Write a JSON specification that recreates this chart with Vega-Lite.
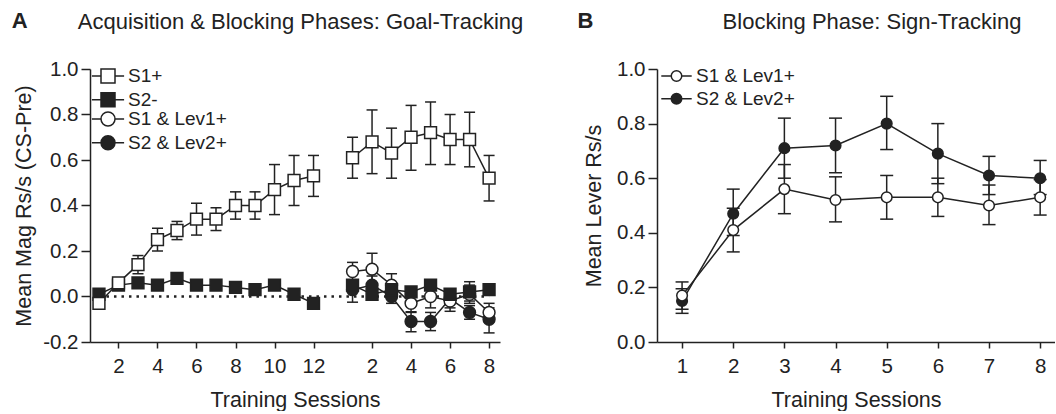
{
  "$schema": "https://vega.github.io/schema/vega-lite/v6.json",
  "padding": {"left": 11, "top": 10, "right": 0, "bottom": 0},
  "background": "white",
  "datasets": {
    "A": [
      {"g": "S2 & Lev2+", "ph": "b", "pos": 14, "m": 0.03, "lo": -0.025, "hi": 0.07},
      {"g": "S2 & Lev2+", "ph": "b", "pos": 15, "m": 0.05, "lo": -0.015, "hi": 0.09},
      {"g": "S2 & Lev2+", "ph": "b", "pos": 16, "m": 0.0, "lo": -0.03, "hi": 0.04},
      {"g": "S2 & Lev2+", "ph": "b", "pos": 17, "m": -0.11, "lo": -0.155, "hi": -0.067},
      {"g": "S2 & Lev2+", "ph": "b", "pos": 18, "m": -0.11, "lo": -0.15, "hi": -0.07},
      {"g": "S2 & Lev2+", "ph": "b", "pos": 19, "m": -0.01, "lo": -0.05, "hi": 0.03},
      {"g": "S2 & Lev2+", "ph": "b", "pos": 20, "m": -0.07, "lo": -0.1, "hi": -0.04},
      {"g": "S2 & Lev2+", "ph": "b", "pos": 21, "m": -0.1, "lo": -0.16, "hi": -0.05},
      {"g": "S1 & Lev1+", "ph": "b", "pos": 14, "m": 0.11, "lo": 0.07, "hi": 0.15},
      {"g": "S1 & Lev1+", "ph": "b", "pos": 15, "m": 0.12, "lo": 0.05, "hi": 0.19},
      {"g": "S1 & Lev1+", "ph": "b", "pos": 16, "m": 0.05, "lo": 0.0, "hi": 0.1},
      {"g": "S1 & Lev1+", "ph": "b", "pos": 17, "m": -0.03, "lo": -0.07, "hi": 0.01},
      {"g": "S1 & Lev1+", "ph": "b", "pos": 18, "m": 0.0, "lo": -0.05, "hi": 0.05},
      {"g": "S1 & Lev1+", "ph": "b", "pos": 19, "m": -0.02, "lo": -0.065, "hi": 0.025},
      {"g": "S1 & Lev1+", "ph": "b", "pos": 20, "m": 0.01, "lo": -0.03, "hi": 0.05},
      {"g": "S1 & Lev1+", "ph": "b", "pos": 21, "m": -0.07, "lo": -0.11, "hi": -0.03},
      {"g": "S2-", "ph": "a", "pos": 1, "m": 0.01, "lo": -0.005, "hi": 0.025},
      {"g": "S2-", "ph": "a", "pos": 2, "m": 0.05, "lo": 0.035, "hi": 0.065},
      {"g": "S2-", "ph": "a", "pos": 3, "m": 0.06, "lo": 0.045, "hi": 0.075},
      {"g": "S2-", "ph": "a", "pos": 4, "m": 0.05, "lo": 0.035, "hi": 0.065},
      {"g": "S2-", "ph": "a", "pos": 5, "m": 0.08, "lo": 0.065, "hi": 0.095},
      {"g": "S2-", "ph": "a", "pos": 6, "m": 0.05, "lo": 0.035, "hi": 0.065},
      {"g": "S2-", "ph": "a", "pos": 7, "m": 0.05, "lo": 0.035, "hi": 0.065},
      {"g": "S2-", "ph": "a", "pos": 8, "m": 0.04, "lo": 0.025, "hi": 0.055},
      {"g": "S2-", "ph": "a", "pos": 9, "m": 0.03, "lo": 0.015, "hi": 0.045},
      {"g": "S2-", "ph": "a", "pos": 10, "m": 0.05, "lo": 0.035, "hi": 0.065},
      {"g": "S2-", "ph": "a", "pos": 11, "m": 0.01, "lo": -0.005, "hi": 0.025},
      {"g": "S2-", "ph": "a", "pos": 12, "m": -0.03, "lo": -0.045, "hi": -0.015},
      {"g": "S2-", "ph": "b", "pos": 14, "m": 0.05, "lo": 0.03, "hi": 0.07},
      {"g": "S2-", "ph": "b", "pos": 15, "m": 0.01, "lo": -0.01, "hi": 0.03},
      {"g": "S2-", "ph": "b", "pos": 16, "m": 0.03, "lo": 0.01, "hi": 0.05},
      {"g": "S2-", "ph": "b", "pos": 17, "m": 0.02, "lo": 0.0, "hi": 0.04},
      {"g": "S2-", "ph": "b", "pos": 18, "m": 0.05, "lo": 0.03, "hi": 0.07},
      {"g": "S2-", "ph": "b", "pos": 19, "m": 0.01, "lo": -0.01, "hi": 0.03},
      {"g": "S2-", "ph": "b", "pos": 20, "m": 0.02, "lo": -0.02, "hi": 0.065},
      {"g": "S2-", "ph": "b", "pos": 21, "m": 0.03, "lo": 0.01, "hi": 0.05},
      {"g": "S1+", "ph": "a", "pos": 1, "m": -0.03, "lo": -0.05, "hi": -0.01},
      {"g": "S1+", "ph": "a", "pos": 2, "m": 0.06, "lo": 0.04, "hi": 0.08},
      {"g": "S1+", "ph": "a", "pos": 3, "m": 0.14, "lo": 0.1, "hi": 0.18},
      {"g": "S1+", "ph": "a", "pos": 4, "m": 0.25, "lo": 0.2, "hi": 0.3},
      {"g": "S1+", "ph": "a", "pos": 5, "m": 0.29, "lo": 0.25, "hi": 0.33},
      {"g": "S1+", "ph": "a", "pos": 6, "m": 0.34, "lo": 0.27, "hi": 0.41},
      {"g": "S1+", "ph": "a", "pos": 7, "m": 0.34, "lo": 0.29, "hi": 0.39},
      {"g": "S1+", "ph": "a", "pos": 8, "m": 0.4, "lo": 0.34, "hi": 0.46},
      {"g": "S1+", "ph": "a", "pos": 9, "m": 0.4, "lo": 0.34, "hi": 0.46},
      {"g": "S1+", "ph": "a", "pos": 10, "m": 0.47, "lo": 0.36, "hi": 0.58},
      {"g": "S1+", "ph": "a", "pos": 11, "m": 0.51, "lo": 0.4, "hi": 0.62},
      {"g": "S1+", "ph": "a", "pos": 12, "m": 0.53, "lo": 0.44, "hi": 0.62},
      {"g": "S1+", "ph": "b", "pos": 14, "m": 0.61, "lo": 0.52, "hi": 0.7},
      {"g": "S1+", "ph": "b", "pos": 15, "m": 0.68, "lo": 0.54, "hi": 0.82},
      {"g": "S1+", "ph": "b", "pos": 16, "m": 0.63, "lo": 0.52, "hi": 0.74},
      {"g": "S1+", "ph": "b", "pos": 17, "m": 0.7, "lo": 0.555, "hi": 0.84},
      {"g": "S1+", "ph": "b", "pos": 18, "m": 0.72, "lo": 0.58, "hi": 0.855},
      {"g": "S1+", "ph": "b", "pos": 19, "m": 0.69, "lo": 0.58, "hi": 0.8},
      {"g": "S1+", "ph": "b", "pos": 20, "m": 0.69, "lo": 0.57, "hi": 0.81},
      {"g": "S1+", "ph": "b", "pos": 21, "m": 0.52, "lo": 0.42, "hi": 0.62}
    ],
    "B": [
      {"g": "S2 & Lev2+", "s": 1, "m": 0.15, "lo": 0.105, "hi": 0.195},
      {"g": "S2 & Lev2+", "s": 2, "m": 0.47, "lo": 0.39, "hi": 0.56},
      {"g": "S2 & Lev2+", "s": 3, "m": 0.71, "lo": 0.6, "hi": 0.82},
      {"g": "S2 & Lev2+", "s": 4, "m": 0.72, "lo": 0.62, "hi": 0.82},
      {"g": "S2 & Lev2+", "s": 5, "m": 0.8, "lo": 0.705, "hi": 0.9},
      {"g": "S2 & Lev2+", "s": 6, "m": 0.69, "lo": 0.58, "hi": 0.8},
      {"g": "S2 & Lev2+", "s": 7, "m": 0.61, "lo": 0.54, "hi": 0.68},
      {"g": "S2 & Lev2+", "s": 8, "m": 0.6, "lo": 0.54, "hi": 0.665},
      {"g": "S1 & Lev1+", "s": 1, "m": 0.17, "lo": 0.12, "hi": 0.22},
      {"g": "S1 & Lev1+", "s": 2, "m": 0.41, "lo": 0.33, "hi": 0.49},
      {"g": "S1 & Lev1+", "s": 3, "m": 0.56, "lo": 0.47, "hi": 0.65},
      {"g": "S1 & Lev1+", "s": 4, "m": 0.52, "lo": 0.44, "hi": 0.605},
      {"g": "S1 & Lev1+", "s": 5, "m": 0.53, "lo": 0.45, "hi": 0.61},
      {"g": "S1 & Lev1+", "s": 6, "m": 0.53, "lo": 0.46, "hi": 0.6},
      {"g": "S1 & Lev1+", "s": 7, "m": 0.5, "lo": 0.43, "hi": 0.575},
      {"g": "S1 & Lev1+", "s": 8, "m": 0.53, "lo": 0.465, "hi": 0.595}
    ]
  },
  "hconcat": [
    {
      "width": 410,
      "height": 273,
      "title": {"text": "A", "anchor": "start", "frame": "bounds", "fontSize": 22, "fontWeight": "bold", "color": "#222", "font": "Liberation Sans", "dx": -2, "dy": 27},
      "data": {"name": "A"},
      "layer": [
        {
          "data": {"values": [{"x1": 1, "x2": 21, "y": 0}]},
          "mark": {"type": "rule", "strokeDash": [2.5, 5], "strokeWidth": 2.5, "color": "#222"},
          "encoding": {
            "x": {"field": "x1", "type": "quantitative", "axis": {"orient": "top", "domain": false, "ticks": false, "labels": false, "grid": false, "title": "Acquisition & Blocking Phases: Goal-Tracking", "titleX": 210, "titleY": -41, "titleAlign": "center", "titleBaseline": "alphabetic", "titleAngle": 0, "titleFontSize": 22}},
            "x2": {"field": "x2"},
            "y": {"field": "y", "type": "quantitative"}
          }
        },
        {
          "mark": {"type": "rule", "strokeWidth": 1.5, "color": "#222"},
          "encoding": {
            "x": {"field": "pos", "type": "quantitative", "axis": null},
            "y": {"field": "lo", "type": "quantitative"},
            "y2": {"field": "hi"}
          }
        },
        {
          "mark": {"type": "tick", "orient": "horizontal", "size": 11, "thickness": 1.5, "color": "#222", "opacity": 1},
          "encoding": {
            "x": {"field": "pos", "type": "quantitative", "axis": null},
            "y": {"field": "lo", "type": "quantitative"}
          }
        },
        {
          "mark": {"type": "tick", "orient": "horizontal", "size": 11, "thickness": 1.5, "color": "#222", "opacity": 1},
          "encoding": {
            "x": {"field": "pos", "type": "quantitative", "axis": null},
            "y": {"field": "hi", "type": "quantitative"}
          }
        },
        {
          "mark": {"type": "line", "strokeWidth": 1.5, "color": "#222"},
          "encoding": {
            "x": {"field": "pos", "type": "quantitative", "axis": null},
            "y": {"field": "m", "type": "quantitative"},
            "detail": [{"field": "g"}, {"field": "ph"}]
          }
        },
        {
          "transform": [{"filter": {"field": "g", "oneOf": ["S2 & Lev2+", "S1 & Lev1+"]}}],
          "mark": {"type": "point", "filled": true, "shape": "circle", "stroke": "#222", "strokeWidth": 1.5, "size": 140, "opacity": 1},
          "encoding": {
            "x": {"field": "pos", "type": "quantitative", "axis": null},
            "y": {"field": "m", "type": "quantitative"},
            "fill": {"field": "g", "type": "nominal",
              "scale": {"domain": ["S1 & Lev1+", "S2 & Lev2+"], "range": ["#ffffff", "#222222"]},
              "legend": {"title": null, "orient": "none", "legendX": 8.5, "legendY": 40.5, "padding": 0, "labelFontSize": 19, "labelColor": "#222", "labelOffset": 10.5, "rowPadding": 2.7, "symbolSize": 196, "symbolStrokeColor": "#222", "symbolStrokeWidth": 1.5, "symbolOpacity": 1,
                "symbolType": "M-2.3,0H-1M1,0H2.3M1,0A1,1,0,1,1,-1,0A1,1,0,1,1,1,0Z"}}
          }
        },
        {
          "transform": [{"filter": {"field": "g", "oneOf": ["S2-", "S1+"]}}],
          "mark": {"type": "point", "filled": true, "shape": "square", "stroke": "#222", "strokeWidth": 1.5, "size": 140, "opacity": 1},
          "encoding": {
            "x": {"field": "pos", "type": "quantitative",
              "scale": {"domain": [0.54, 21.56], "nice": false, "zero": false},
              "axis": {"orient": "bottom", "values": [2, 4, 6, 8, 10, 12, 15, 17, 19, 21], "labelExpr": "datum.value > 13 ? toString(datum.value - 13) : toString(datum.value)", "title": "Training Sessions", "tickSize": 6, "labelPadding": 8, "titlePadding": 13, "labelFlush": false, "labelOverlap": false, "grid": false}},
            "y": {"field": "m", "type": "quantitative",
              "scale": {"domain": [-0.2, 1.0], "nice": false, "zero": false},
              "axis": {"values": [-0.2, 0, 0.2, 0.4, 0.6, 0.8, 1.0], "format": ".1f", "labelExpr": "replace(datum.label, '−', '-')", "title": "Mean Mag Rs/s (CS-Pre)", "tickSize": 9, "labelPadding": 3, "titlePadding": 7, "grid": false}},
            "fill": {"field": "g", "type": "nominal",
              "scale": {"domain": ["S1+", "S2-"], "range": ["#ffffff", "#222222"]},
              "legend": {"title": null, "orient": "none", "legendX": 8.5, "legendY": -2.5, "padding": 0, "labelFontSize": 19, "labelColor": "#222", "labelOffset": 10.5, "rowPadding": 2.7, "symbolSize": 196, "symbolStrokeColor": "#222", "symbolStrokeWidth": 1.5, "symbolOpacity": 1,
                "symbolType": "M-2.3,0H-1M1,0H2.3M-1,-1H1V1H-1Z"}}
          }
        }
      ],
      "resolve": {"axis": {"x": "independent"}, "scale": {"fill": "independent"}, "legend": {"fill": "independent"}}
    },
    {
      "width": 398,
      "height": 273,
      "title": {"text": "B", "anchor": "start", "frame": "bounds", "fontSize": 22, "fontWeight": "bold", "color": "#222", "font": "Liberation Sans", "dx": -6, "dy": 27},
      "data": {"name": "B"},
      "layer": [
        {
          "mark": {"type": "rule", "strokeWidth": 1.5, "color": "#222"},
          "encoding": {
            "x": {"field": "s", "type": "quantitative", "axis": null},
            "y": {"field": "lo", "type": "quantitative"},
            "y2": {"field": "hi"}
          }
        },
        {
          "mark": {"type": "tick", "orient": "horizontal", "size": 13, "thickness": 1.5, "color": "#222", "opacity": 1},
          "encoding": {
            "x": {"field": "s", "type": "quantitative", "axis": null},
            "y": {"field": "lo", "type": "quantitative"}
          }
        },
        {
          "mark": {"type": "tick", "orient": "horizontal", "size": 13, "thickness": 1.5, "color": "#222", "opacity": 1},
          "encoding": {
            "x": {"field": "s", "type": "quantitative", "axis": null},
            "y": {"field": "hi", "type": "quantitative"}
          }
        },
        {
          "mark": {"type": "line", "strokeWidth": 1.5, "color": "#222"},
          "encoding": {
            "x": {"field": "s", "type": "quantitative", "axis": {"orient": "top", "domain": false, "ticks": false, "labels": false, "grid": false, "title": "Blocking Phase: Sign-Tracking", "titleX": 214.5, "titleY": -41, "titleAlign": "center", "titleBaseline": "alphabetic", "titleAngle": 0, "titleFontSize": 22}},
            "y": {"field": "m", "type": "quantitative"},
            "detail": {"field": "g"}
          }
        },
        {
          "mark": {"type": "point", "filled": true, "stroke": "#222", "strokeWidth": 1.5, "size": 113, "opacity": 1, "shape": "circle"},
          "encoding": {
            "x": {"field": "s", "type": "quantitative",
              "scale": {"domain": [0.51, 8.29], "nice": false, "zero": false},
              "axis": {"orient": "bottom", "values": [1, 2, 3, 4, 5, 6, 7, 8], "format": "d", "title": "Training Sessions", "tickSize": 6, "labelPadding": 8, "titlePadding": 13, "labelFlush": false, "labelOverlap": false, "grid": false}},
            "y": {"field": "m", "type": "quantitative",
              "scale": {"domain": [0, 1.0], "nice": false, "zero": false},
              "axis": {"values": [0, 0.2, 0.4, 0.6, 0.8, 1.0], "format": ".1f", "title": "Mean Lever Rs/s", "tickSize": 9, "labelPadding": 3, "titlePadding": 11, "grid": false}},
            "fill": {"field": "g", "type": "nominal",
              "scale": {"domain": ["S1 & Lev1+", "S2 & Lev2+"], "range": ["#ffffff", "#222222"]},
              "legend": {"title": null, "orient": "none", "legendX": 10, "legendY": -2.5, "padding": 0, "labelFontSize": 19, "labelColor": "#222", "labelOffset": 10, "rowPadding": 2.7, "symbolSize": 110, "symbolStrokeColor": "#222", "symbolStrokeWidth": 1.5, "symbolOpacity": 1,
                "symbolType": "M-2.9,0H-1M1,0H2.9M1,0A1,1,0,1,1,-1,0A1,1,0,1,1,1,0Z"}}
          }
        }
      ],
      "resolve": {"axis": {"x": "independent"}}
    }
  ],
  "spacing": 157,
  "bounds": "flush",
  "resolve": {"scale": {"x": "independent", "y": "independent", "fill": "independent"}, "legend": {"fill": "independent"}},
  "config": {
    "font": "Liberation Sans",
    "view": {"stroke": null},
    "axis": {"domainColor": "#222", "tickColor": "#222", "labelColor": "#222", "titleColor": "#222", "labelFont": "Liberation Sans", "titleFont": "Liberation Sans", "labelFontSize": 20.5, "titleFontSize": 21.5, "titleFontWeight": "normal", "domainWidth": 1.5, "tickWidth": 1.5, "grid": false},
    "legend": {"labelFont": "Liberation Sans"},
    "title": {"font": "Liberation Sans"}
  }
}
